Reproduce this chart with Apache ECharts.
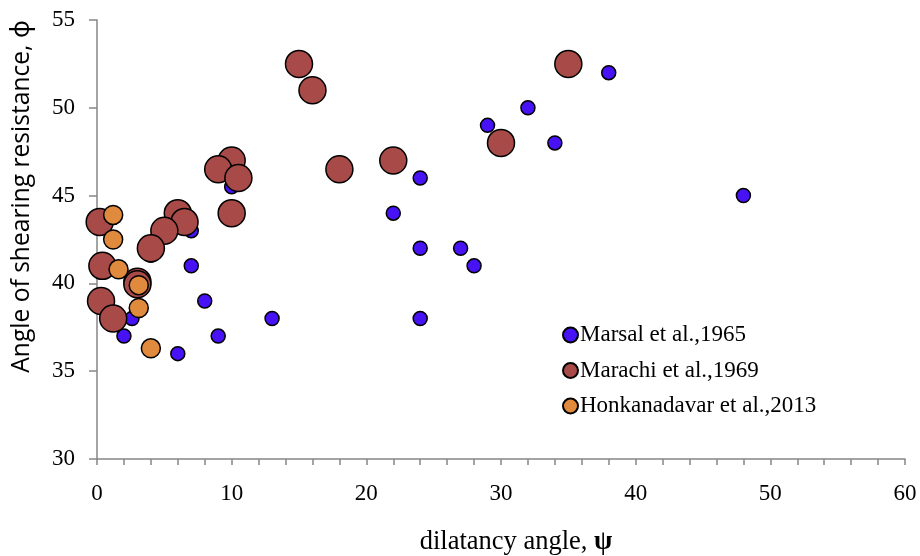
<!DOCTYPE html>
<html>
<head>
<meta charset="utf-8">
<script src="https://cdn.jsdelivr.net/npm/echarts@6/dist/echarts.min.js"></script>
<style>
  html, body { margin: 0; padding: 0; background: #fff; }
  #chart { width: 920px; height: 556px; }
</style>
</head>
<body>
<div id="chart"></div>
<script>
// series names (legend)
const seriesNames = ['Marsal et al.,1965', 'Marachi et al.,1969', 'Honkanadavar et al.,2013'];

// Marsal et al., 1965 (dilatancy angle, friction angle)
const marsalX = [38, 32, 29, 34, 48, 24, 22, 24, 27, 28, 24, 13, 9, 8, 7, 7, 10, 4, 6, 2, 2.6];
const marsalY = [52, 50, 49, 48, 45, 46, 44, 42, 42, 41, 38, 38, 37, 39, 41, 43, 45.5, 41.6, 36, 37, 38];

// Marachi et al., 1969
const marachiX = [15, 16, 35, 30, 22, 18, 10, 9, 10.5, 10, 6, 6.5, 5, 4, 0.2, 0.4, 0.3, 1.2, 3, 3];
const marachiY = [52.5, 51, 52.5, 48, 47, 46.5, 47, 46.5, 46, 44, 44, 43.5, 43, 42, 43.5, 41, 39, 38, 40.1, 39.95];

// Honkanadavar et al., 2013
const honkX = [1.2, 1.2, 1.6, 3.1, 3.1, 4];
const honkY = [43.9, 42.5, 40.8, 39.9, 38.6, 36.3];

const pairs = (xs, ys) => xs.map((x, i) => [x, ys[i]]);

const axisColor = '#868686';
const serif = '"Liberation Serif", "Times New Roman", serif';

const chart = echarts.init(document.getElementById('chart'));

chart.setOption({
  backgroundColor: '#fff',
  animation: false,
  grid: { left: 97, right: 15, top: 20, bottom: 97, containLabel: false, outerBoundsMode: 'none' },
  legend: {
    orient: 'vertical',
    left: 562,
    top: 323.5,
    padding: 0,
    itemWidth: 15,
    itemHeight: 15,
    itemGap: 12.5,
    icon: 'circle',
    textStyle: { fontFamily: serif, fontSize: 23, lineHeight: 23, color: '#000', padding: [0, 0, 0, -3] },
    data: seriesNames
  },
  xAxis: {
    type: 'value',
    min: 0,
    max: 60,
    interval: 10,
    name: '{n|dilatancy angle, }{b|ψ}',
    nameLocation: 'middle',
    nameGap: 70,
    nameTextStyle: {
      padding: [0, 0, 0, 30],
      rich: {
        n: { fontFamily: serif, fontSize: 26.5, color: '#000' },
        b: { fontFamily: serif, fontSize: 26.5, fontWeight: 'bold', color: '#000' }
      }
    },
    axisLine: { show: true, lineStyle: { color: axisColor, width: 1.5 } },
    axisTick: { show: true, length: 6, lineStyle: { color: axisColor, width: 1.5 } },
    minorTick: { show: true, splitNumber: 5, length: 6, lineStyle: { color: axisColor, width: 1.5 } },
    axisLabel: { fontFamily: serif, fontSize: 23, color: '#000', margin: 23.5 },
    splitLine: { show: false }
  },
  yAxis: {
    type: 'value',
    min: 30,
    max: 55,
    interval: 5,
    name: 'Angle of shearing resistance, ϕ',
    nameLocation: 'middle',
    nameGap: 63,
    nameTextStyle: {
      fontFamily: '"Open Sans", "Noto Sans", sans-serif',
      fontSize: 24.6,
      color: '#000',
      padding: [0, 0, 0, 86]
    },
    axisLine: { show: true, lineStyle: { color: axisColor, width: 1.5 } },
    axisTick: { show: true, length: 8, lineStyle: { color: axisColor, width: 1.5 } },
    axisLabel: { fontFamily: serif, fontSize: 23, color: '#000', margin: 22 },
    splitLine: { show: false }
  },
  series: [
    {
      name: seriesNames[0],
      type: 'scatter',
      symbol: 'circle',
      symbolSize: 14,
      itemStyle: { color: '#4712F4', borderColor: '#000', borderWidth: 1.5, opacity: 1 },
      data: pairs(marsalX, marsalY)
    },
    {
      name: seriesNames[1],
      type: 'scatter',
      symbol: 'circle',
      symbolSize: 27,
      itemStyle: { color: '#A84A48', borderColor: '#000', borderWidth: 1.5, opacity: 1 },
      data: pairs(marachiX, marachiY)
    },
    {
      name: seriesNames[2],
      type: 'scatter',
      symbol: 'circle',
      symbolSize: 19,
      itemStyle: { color: '#E08A3E', borderColor: '#000', borderWidth: 1.5, opacity: 1 },
      data: pairs(honkX, honkY)
    }
  ]
});
</script>
</body>
</html>
